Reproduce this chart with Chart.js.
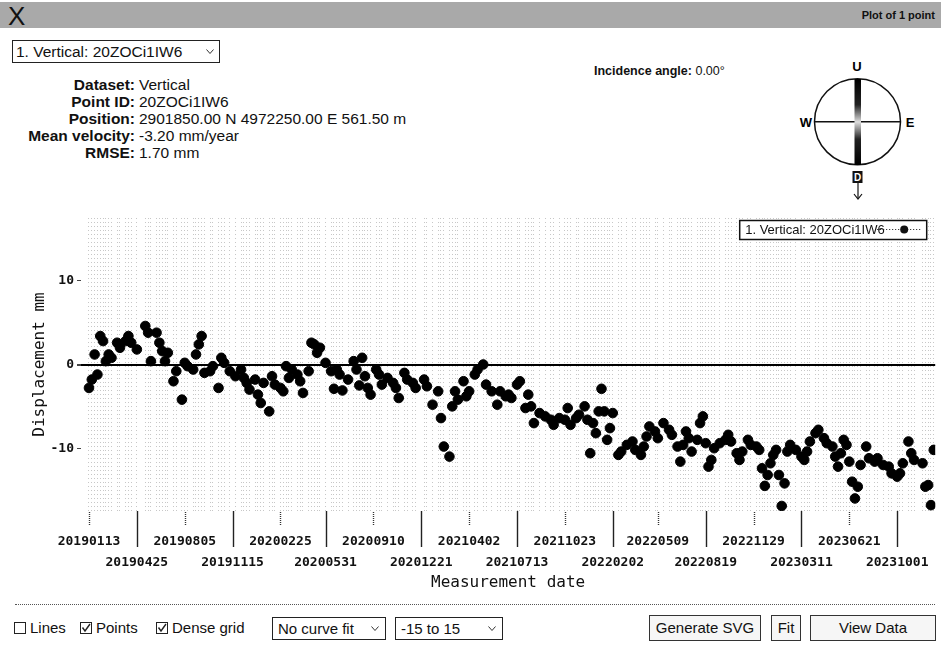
<!DOCTYPE html>
<html>
<head>
<meta charset="utf-8">
<script src="https://cdn.jsdelivr.net/npm/chart.js@4.4.1/dist/chart.umd.min.js"></script>
<style>
  body { margin: 0; background: #fff; font-family: "Liberation Sans", Arial, sans-serif; color: #111; }
  #page { position: relative; width: 941px; height: 648px; overflow: hidden; }
  .abs { position: absolute; white-space: nowrap; }
  #bar { left: 0; top: 2px; width: 941px; height: 26px; background: #a9a9a9; }
  #bar .x { position: absolute; left: 8px; top: -1px; font-size: 26px; }
  #bar .t { position: absolute; right: 6px; top: 7px; font-size: 11px; font-weight: bold; }
  .box { border: 1px solid #222; background: #fff; box-sizing: border-box; font-size: 15px; }
  .info { font-size: 15.5px; line-height: 17px; }
  .info .l { position: absolute; right: 806px; font-weight: bold; text-align: right; }
  .info .v { position: absolute; left: 139px; }
  .btn { border: 1px solid #333; background: #f6f6f6; box-sizing: border-box; font-size: 15px; text-align: center; line-height: 24px; }
  .chk { font-size: 15px; }
  #wrap { left: 0; top: 200px; width: 941px; height: 400px; }
</style>
</head>
<body>
<div id="page">
  <div id="bar" class="abs"><span class="x">X</span><span class="t">Plot of 1 point</span></div>

  <div class="abs box" style="left:12px;top:40px;width:208px;height:23px;line-height:21px;padding-left:3px;font-size:15.5px;">1. Vertical: 20ZOCi1IW6
    <svg style="position:absolute;right:5px;top:8px" width="8" height="6"><polyline points="0.5,0.5 4,4.5 7.5,0.5" fill="none" stroke="#333" stroke-width="1"/></svg>
  </div>

  <div class="abs info" style="left:0;top:76px;width:941px;height:90px;">
    <div class="l" style="top:0">Dataset:</div><div class="v" style="top:0">Vertical</div>
    <div class="l" style="top:17px">Point ID:</div><div class="v" style="top:17px">20ZOCi1IW6</div>
    <div class="l" style="top:34px">Position:</div><div class="v" style="top:34px">2901850.00 N 4972250.00 E 561.50 m</div>
    <div class="l" style="top:51px">Mean velocity:</div><div class="v" style="top:51px">-3.20 mm/year</div>
    <div class="l" style="top:68px">RMSE:</div><div class="v" style="top:68px">1.70 mm</div>
  </div>

  <div class="abs" style="left:594px;top:64px;font-size:12.5px;"><b>Incidence angle:</b> 0.00°</div>

  <svg class="abs" style="left:0;top:0" width="941" height="648" viewBox="0 0 941 648">
    <defs>
      <linearGradient id="ud" x1="0" y1="0" x2="0" y2="1">
        <stop offset="0" stop-color="#000"/>
        <stop offset="0.3" stop-color="#222"/>
        <stop offset="0.5" stop-color="#ddd"/>
        <stop offset="0.7" stop-color="#222"/>
        <stop offset="1" stop-color="#000"/>
      </linearGradient>
    </defs>
    <circle cx="857.5" cy="121.7" r="43" fill="none" stroke="#111" stroke-width="1.5"/>
    <line x1="814.5" y1="121.7" x2="900.5" y2="121.7" stroke="#111" stroke-width="1.5"/>
    <rect x="854.5" y="79" width="6.5" height="86" fill="url(#ud)"/>
    <text x="857" y="71" font-size="13" font-weight="bold" text-anchor="middle" font-family="Liberation Sans, Arial">U</text>
    <text x="806" y="126.5" font-size="13" font-weight="bold" text-anchor="middle" font-family="Liberation Sans, Arial">W</text>
    <text x="910" y="126.5" font-size="13" font-weight="bold" text-anchor="middle" font-family="Liberation Sans, Arial">E</text>
    <rect x="852.5" y="171" width="10" height="12" fill="#111"/>
    <text x="857.5" y="181" font-size="10" font-weight="bold" fill="#fff" text-anchor="middle" font-family="Liberation Sans, Arial">D</text>
    <line x1="858" y1="183" x2="858" y2="198" stroke="#111" stroke-width="1.2"/>
    <polyline points="854,194 858,199 862,194" fill="none" stroke="#111" stroke-width="1.2"/>
  </svg>

  <div id="wrap" class="abs"><canvas id="myChart" width="941" height="400"></canvas></div>

  <div class="abs" style="left:15px;top:604px;width:920px;border-top:1px dotted #555;"></div>

  <svg class="abs" style="left:0;top:614px" width="260" height="28">
    <rect x="14.5" y="8.5" width="11" height="11" fill="#fff" stroke="#222"/>
    <rect x="80.5" y="8.5" width="11" height="11" fill="#fff" stroke="#222"/>
    <polyline points="82.5,13.5 85,17 90,10" fill="none" stroke="#222" stroke-width="1.4"/>
    <rect x="156.5" y="8.5" width="11" height="11" fill="#fff" stroke="#222"/>
    <polyline points="158.5,13.5 161,17 166,10" fill="none" stroke="#222" stroke-width="1.4"/>
  </svg>
  <div class="abs chk" style="left:30px;top:619px;">Lines</div>
  <div class="abs chk" style="left:96px;top:619px;">Points</div>
  <div class="abs chk" style="left:172px;top:619px;">Dense grid</div>

  <div class="abs box" style="left:272px;top:617px;width:114px;height:23px;line-height:21px;padding-left:5px;">No curve fit
    <svg style="position:absolute;right:6px;top:8px" width="8" height="6"><polyline points="0.5,0.5 4,4.5 7.5,0.5" fill="none" stroke="#333" stroke-width="1"/></svg>
  </div>
  <div class="abs box" style="left:395px;top:617px;width:108px;height:23px;line-height:21px;padding-left:5px;">-15 to 15
    <svg style="position:absolute;right:6px;top:8px" width="8" height="6"><polyline points="0.5,0.5 4,4.5 7.5,0.5" fill="none" stroke="#333" stroke-width="1"/></svg>
  </div>

  <div class="abs btn" style="left:649px;top:615px;width:112px;height:26px;">Generate SVG</div>
  <div class="abs btn" style="left:771px;top:615px;width:30px;height:26px;">Fit</div>
  <div class="abs btn" style="left:810px;top:615px;width:126px;height:26px;">View Data</div>
</div>

<script>
// days after the first acquisition (20190113)
var dayOffsets = [
  0, 6, 12, 18, 24, 30, 36, 42, 48, 60, 66, 78, 84, 90, 102, 120, 126, 132, 144, 150,
  156, 162, 168, 180, 186, 198, 204, 210, 222, 228, 234, 240, 246, 258, 264, 276, 282, 288, 300, 312,
  324, 330, 336, 342, 354, 360, 366, 372, 384, 390, 396, 408, 414, 420, 426, 432, 444, 450, 456, 468,
  474, 480, 486, 492, 504, 516, 522, 528, 534, 540, 552, 564, 570, 576, 582, 588, 594, 600, 612, 618,
  624, 636, 648, 654, 660, 672, 678, 690, 696, 714, 720, 732, 744, 750, 756, 768, 774, 780, 786, 798,
  804, 810, 822, 828, 840, 846, 858, 870, 876, 888,
  894, 900, 912, 918, 930, 936, 942, 948, 960, 972, 984, 990, 1002, 1014, 1020, 1026, 1038, 1044, 1056, 1062,
  1068, 1074, 1080, 1086, 1092, 1098, 1104, 1110, 1116, 1128, 1134, 1146, 1158, 1164, 1176, 1182, 1188, 1194, 1206, 1212,
  1224, 1236, 1242, 1254, 1260, 1266, 1272, 1278, 1284, 1296, 1302, 1308, 1314, 1320, 1326, 1332, 1344, 1356, 1362, 1368,
  1380, 1386, 1392, 1404, 1410, 1422, 1428, 1434, 1440, 1446, 1452, 1458, 1464, 1470, 1476, 1482, 1488, 1494, 1506, 1518,
  1524, 1530, 1536, 1548, 1554, 1566, 1572, 1584, 1590, 1596, 1602, 1608, 1614, 1620, 1626, 1632, 1638, 1644, 1656, 1662,
  1674, 1680, 1692, 1704, 1710, 1722, 1728, 1734, 1746, 1752, 1758, 1776, 1782, 1788, 1794, 1800
];
// displacement in mm
var displacement = [
  -2.8, -1.8, 1.2, -1.2, 3.4, 2.8, 0.4, 1.2, 0.8, 2.6, 2.0, 2.8, 3.4, 2.6, 1.8, 4.6, 3.8, 0.4, 3.8, 2.6,
  1.6, 0.4, 1.4, -2.0, -0.8, -4.2, 0.2, -0.2, -0.6, 1.2, 2.4, 3.4, -1.0, -0.8, -0.2, -2.8, 0.8, 0.2, -0.8, -1.4,
  -0.6, -1.6, -2.2, -3.0, -1.8, -3.6, -4.6, -2.2, -5.6, -1.4, -2.4, -2.8, -3.2, -0.2, -1.6, -0.6, -1.2, -2.0, -3.4, -0.8,
  2.6, 2.4, 1.4, 2.0, 0.2, -0.8, -2.9, -0.6, -1.2, -3.1, -1.8, 0.4, -0.6, -2.5, 0.8, -1.4, -2.8, -3.6, -0.6, -1.2,
  -2.4, -1.6, -2.2, -2.8, -4.0, -1.0, -1.8, -2.2, -2.8, -1.8, -2.6, -4.8, -3.2, -6.4, -9.8, -11.0, -5.0, -3.2, -4.2, -2.0,
  -3.8, -3.2, -1.2, -0.6, 0.0, -2.4, -3.2, -4.8, -3.2, -3.8,
  -3.6, -4.0, -2.4, -2.0, -5.2, -3.6, -5.0, -7.0, -5.8, -6.2, -6.6, -7.2, -6.4, -6.6, -5.2, -7.2, -6.4, -6.0, -5.0, -6.6,
  -10.6, -7.0, -8.2, -5.6, -2.9, -5.6, -9.0, -7.6, -5.8, -10.8, -10.4, -9.6, -9.2, -10.2, -10.8, -9.8, -8.6, -7.4, -8.0, -8.8,
  -7.0, -7.8, -8.4, -9.8, -11.6, -9.6, -8.0, -8.8, -10.4, -9.0, -7.0, -6.2, -9.4, -12.2, -11.4, -10.0, -9.4, -9.0, -8.4, -9.2,
  -10.6, -11.4, -10.4, -9.0, -9.6, -9.8, -10.2, -12.4, -14.5, -13.2, -11.8, -10.8, -10.2, -13.2, -16.9, -14.2, -10.4, -9.6, -10.2, -11.0,
  -11.4, -10.4, -9.2, -8.2, -7.8, -8.8, -9.4, -9.8, -11.0, -12.2, -10.6, -9.0, -9.6, -11.6, -14.0, -16.0, -14.6, -12.0, -9.8, -11.2,
  -11.6, -11.2, -12.0, -12.2, -13.0, -13.4, -13.0, -11.8, -9.2, -10.6, -11.4, -11.8, -14.6, -14.4, -16.8, -10.2
];
var tickLabels = ['20190113', '20190425', '20190805', '20191115', '20200225', '20200531', '20200910', '20201221', '20210402',
  '20210713', '20211023', '20220202', '20220509', '20220819', '20221129', '20230311', '20230621', '20231001'];
var yTicks = [-10, 0, 10];

function toDay(s) {
  var t = Date.UTC(+s.slice(0, 4), +s.slice(4, 6) - 1, +s.slice(6, 8));
  return Math.round((t - Date.UTC(2019, 0, 13)) / 86400000);
}
var tickDays = tickLabels.map(toDay);

var points = dayOffsets.map(function (d, i) { return { x: d, y: displacement[i] }; });

var mono = 'DejaVu Sans Mono';

var marks = {
  id: 'marks',
  afterDraw: function (chart) {
    var ctx = chart.ctx, area = chart.chartArea, xs = chart.scales.x;
    ctx.save();
    xs.ticks.forEach(function (t, i) {
      var px = Math.round(xs.getPixelForValue(t.value)) + 0.5;
      ctx.beginPath();
      if (i % 2) {
        ctx.setLineDash([]);
        ctx.lineWidth = 1.4;
        ctx.strokeStyle = '#222';
        ctx.moveTo(px, area.bottom);
        ctx.lineTo(px, area.bottom + 36);
      } else {
        ctx.setLineDash([1, 1]);
        ctx.lineWidth = 1.4;
        ctx.strokeStyle = '#333';
        ctx.moveTo(px, area.bottom + 1);
        ctx.lineTo(px, area.bottom + 15);
      }
      ctx.stroke();
    });
    // legend box
    var bx = area.right - 196, by = area.top + 2, bw = 187, bh = 19;
    ctx.setLineDash([]);
    ctx.fillStyle = '#fff';
    ctx.fillRect(bx, by, bw, bh);
    ctx.lineWidth = 1.5;
    ctx.strokeStyle = '#111';
    ctx.strokeRect(bx + 0.5, by + 0.5, bw, bh);
    ctx.fillStyle = '#111';
    ctx.font = '13px "Liberation Sans", Arial';
    ctx.textBaseline = 'middle';
    ctx.fillText(chart.data.datasets[0].label, bx + 6, by + bh / 2 + 1);
    ctx.beginPath();
    ctx.setLineDash([1, 2]);
    ctx.lineWidth = 1;
    ctx.moveTo(bx + 138, by + bh / 2);
    ctx.lineTo(bx + 183, by + bh / 2);
    ctx.stroke();
    ctx.beginPath();
    ctx.arc(bx + 165, by + bh / 2, 4, 0, Math.PI * 2);
    ctx.fill();
    ctx.restore();
  }
};

var ctx = document.getElementById('myChart').getContext('2d');
var myChart = new Chart(ctx, {
  type: 'scatter',
  data: {
    datasets: [{
      label: '1. Vertical: 20ZOCi1IW6',
      data: points,
      backgroundColor: '#000',
      borderColor: '#000',
      pointRadius: 4.8,
      pointHoverRadius: 4.8
    }]
  },
  options: {
    responsive: false,
    animation: false,
    layout: { padding: { left: 0, right: 4, top: 18, bottom: 0 } },
    plugins: { legend: { display: false }, tooltip: { enabled: false } },
    scales: {
      x: {
        type: 'linear',
        min: -17,
        max: 1803,
        afterBuildTicks: function (s) { s.ticks = tickDays.map(function (v) { return { value: v }; }); },
        afterFit: function (s) { s.height = 89; s.paddingLeft = 0; s.paddingRight = 0; },
        grid: { display: false, drawTicks: false },
        border: { display: false },
        ticks: {
          autoSkip: false,
          maxRotation: 0,
          padding: 20,
          color: '#111',
          font: { family: mono, size: 13, weight: 'bold', lineHeight: 1.6 },
          callback: function (v, i) { return i % 2 ? ['', tickLabels[i]] : [tickLabels[i]]; }
        },
        title: {
          display: true,
          text: 'Measurement date',
          color: '#111',
          font: { family: mono, size: 16 },
          padding: { top: 0, bottom: 8 }
        }
      },
      g: {
        type: 'linear',
        position: 'top',
        min: -17,
        max: 1803,
        afterBuildTicks: function (s) { s.ticks = dayOffsets.map(function (v) { return { value: v }; }); },
        afterFit: function (s) { s.height = 0; s.paddingLeft = 0; s.paddingRight = 0; },
        ticks: { display: false },
        grid: { color: 'rgba(0,0,0,0.22)', lineWidth: 1, drawTicks: false },
        border: { display: false, dash: [1, 3] }
      },
      y: {
        min: -17.5,
        max: 17.5,
        afterBuildTicks: function (s) { s.ticks = yTicks.map(function (v) { return { value: v }; }); },
        afterFit: function (s) { s.width = 81; },
        border: { display: false },
        grid: {
          color: function (c) { return c.tick && c.tick.value === 0 ? '#000' : 'rgba(0,0,0,0)'; },
          lineWidth: function (c) { return c.tick && c.tick.value === 0 ? 2 : 1; },
          tickColor: '#444',
          tickLength: 4
        },
        ticks: {
          padding: 3,
          color: '#111',
          font: { family: mono, size: 13, weight: 'bold' }
        },
        title: {
          display: true,
          text: 'Displacement mm',
          color: '#111',
          font: { family: mono, size: 16 },
          padding: { top: 30, bottom: 0 }
        }
      }
    }
  },
  plugins: [marks]
});
</script>
</body>
</html>
